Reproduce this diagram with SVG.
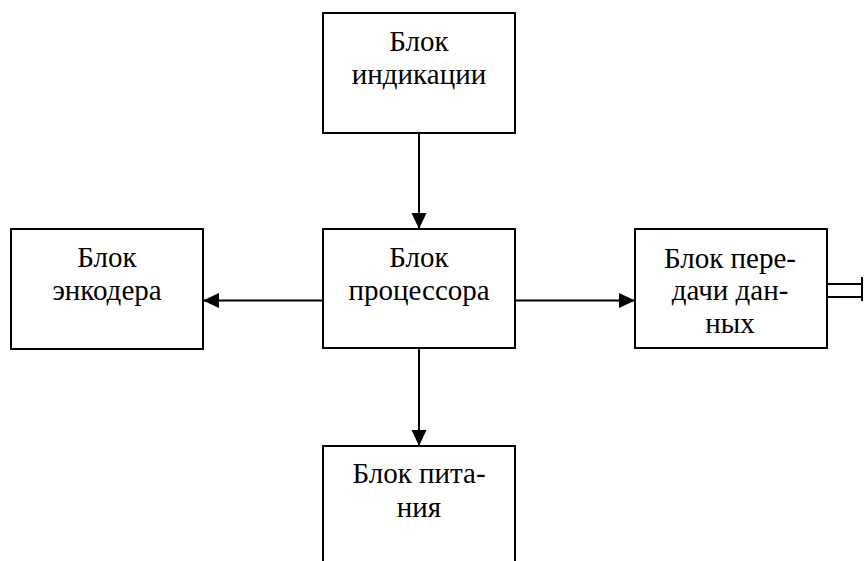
<svg xmlns="http://www.w3.org/2000/svg" width="864" height="561" viewBox="0 0 864 561">
<defs>
<marker id="ah" markerUnits="userSpaceOnUse" markerWidth="16" markerHeight="16" viewBox="0 0 16 16" refX="16" refY="8" orient="auto">
<path d="M0,0.5 L16,8 L0,15.5 Z" fill="#000"/>
</marker>
</defs>
<rect width="864" height="561" fill="#fff"/>
<g id="connectors" fill="none" stroke="#000" stroke-width="2">
<line x1="419" y1="133" x2="419" y2="229" marker-end="url(#ah)"/>
<line x1="323" y1="300.5" x2="203" y2="300.5" marker-end="url(#ah)"/>
<line x1="515" y1="300.5" x2="635" y2="300.5" marker-end="url(#ah)"/>
<line x1="419" y1="348" x2="419" y2="446" marker-end="url(#ah)"/>
<path d="M827,284 H862 M827,297 H862 M862,277 V301"/>
</g>
<g id="nodes">
<g id="indication">
<rect x="323" y="13" width="192" height="120" fill="#fff" stroke="#000" stroke-width="2"/>
<g font-family="Liberation Serif" font-size="29" text-anchor="middle" fill="#000">
<text x="419" y="51">Блок</text>
<text x="419" y="84">индикации</text>
</g>
</g>
<g id="encoder">
<rect x="11" y="229" width="192" height="120" fill="#fff" stroke="#000" stroke-width="2"/>
<g font-family="Liberation Serif" font-size="29" text-anchor="middle" fill="#000">
<text x="107" y="267">Блок</text>
<text x="107" y="300">энкодера</text>
</g>
</g>
<g id="processor">
<rect x="323" y="229" width="192" height="119" fill="#fff" stroke="#000" stroke-width="2"/>
<g font-family="Liberation Serif" font-size="29" text-anchor="middle" fill="#000">
<text x="419" y="267">Блок</text>
<text x="419" y="300">процессора</text>
</g>
</g>
<g id="transfer">
<rect x="635" y="229" width="192" height="119" fill="#fff" stroke="#000" stroke-width="2"/>
<g font-family="Liberation Serif" font-size="29" text-anchor="middle" fill="#000">
<text x="730" y="268">Блок пере-</text>
<text x="730" y="300">дачи дан-</text>
<text x="730" y="333">ных</text>
</g>
</g>
<g id="power">
<rect x="323" y="446" width="192" height="130" fill="#fff" stroke="#000" stroke-width="2"/>
<g font-family="Liberation Serif" font-size="29" text-anchor="middle" fill="#000">
<text x="419" y="483">Блок пита-</text>
<text x="419" y="517">ния</text>
</g>
</g>
</g>
</svg>
